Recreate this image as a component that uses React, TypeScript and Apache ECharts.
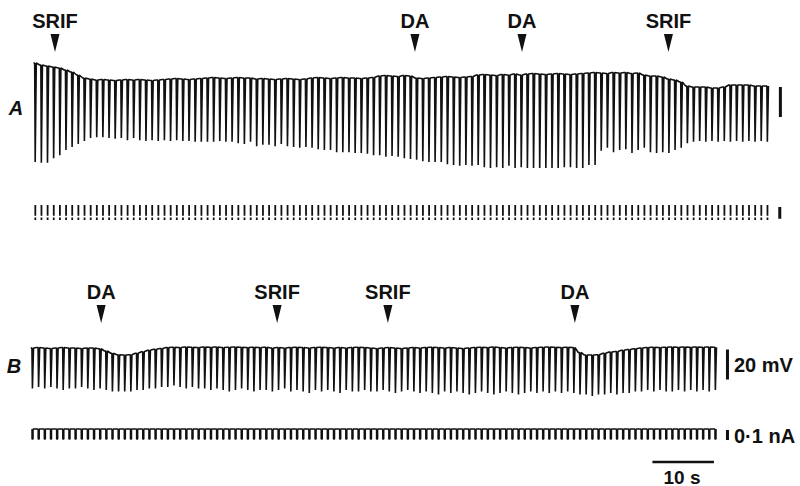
import React, { useEffect, useRef } from "react";
import * as echarts from "echarts";

// ---------- data (mV, nA, seconds) ----------
// Panel A: baseline (top) and peak of each electrotonic response (bottom), one value per 1-s current pulse
const A_TOPS = [
  0, -1.3, -2, -2.7, -3.3, -4.7, -6, -8, -10, -10.7,
  -11.3, -11, -11.3, -11.7, -11.3, -11, -11.3, -11, -11.3, -11.7, -11.3, -11,
  -10.7, -10.3, -10.7, -11, -10.7, -10.3,
  -10, -9.7, -10, -10.3, -10, -9.7, -10, -10,
  -10.7, -10.3, -10.7, -11,
  -10.7, -10.3, -10.7, -11, -10.7,
  -10, -9.7, -10, -10.3, -10, -9.7, -10, -10, -10.3, -10, -9.7,
  -8.7, -8.3, -8.7, -9, -8.3, -8.7,
  -10, -10.3, -10, -9.7,
  -9.3, -9, -9.3, -9.7, -9.3, -9,
  -8, -7.7, -8, -8.3, -7.7, -8, -7.3, -8,
  -7.3, -7, -7.3, -7.7, -7.3, -7, -7.3, -7.7, -7.3, -7,
  -6.7, -6.3, -6.7, -7, -6.3, -6.7, -6.3, -7, -6.7,
  -8, -8.7, -8.7, -9.3, -10.7, -11.3, -12.7, -15.3, -16, -16, -16,
  -16.7, -16.7, -16, -14.7, -14.7, -14.7, -14.7, -15.3, -15.3, -15.3,
];
const A_BOTTOMS = [
  -66, -66.5, -66.5, -63.5, -61.5, -58, -56, -54, -52, -50,
  -49.5, -49.5, -50, -50.5, -50, -51.5, -50, -51.5, -52, -51.5,
  -52, -51.5, -52, -51.5, -52, -52, -52.5, -52.5, -52.5, -52.5,
  -52, -52.5, -52.5, -53.5, -54, -52.5, -55.5, -54.5, -54.5, -55.5,
  -54, -55.5, -56, -56.5, -56, -56.5, -57.5, -58, -58, -59.5,
  -59.5, -59.5, -60, -60, -60.5, -61.5, -61.5, -62.5, -62, -62.5,
  -63.5, -64, -64.5, -65.5, -66, -66, -66, -67.5, -68, -68.5,
  -68, -68.5, -68, -69.5, -70, -69.5, -70, -68.5, -70, -69.5,
  -70, -70, -70, -70, -70, -70, -69.5, -69.5, -70, -70,
  -68, -68, -58.5, -56.5, -59.5, -58, -57.5, -60, -58, -56.5,
  -59.5, -60, -59.5, -60, -58, -56.5, -53.5, -52.5, -52, -52.5,
  -52, -52.5, -52, -52.5, -52, -52.5, -52, -52.5, -52, -52.5,
];
// Panel B
const B_TOPS = [
  0, 0.3, 0, -0.3, 0, 0.3, 0, 0, -0.3, 0, 0, -0.5,
  -2, -3.5, -4.5, -4.7, -4.5, -3.5, -2.5, -1.5, -0.8, -0.3,
  0.3, 0.5, 0.3, 0.7, 0.5, 0.3, 0.7, 0.5, 0.7, 0.3,
  0.5, 0.7, 0.5, 0.3, 0.5, 0.3, 0.5, 0, 0.3, 0,
  0.3, 0.5, 0.3, 0, 0.3, 0.5, 0.3, 0, 0.3, 0,
  0.3, 0.5, 0.3, 0, -0.3, 0, 0.3, 0, -0.3, 0,
  0.3, 0, 0.3, 0.5, 0.3, 0, 0.3, 0, -0.3, 0,
  0.3, 0.5, 0.3, 0.7, 0.3, 0, 0.3, 0.5, 0.3, 0,
  0.3, 0.5, 0.7, 0.5, 0.3, 0.5, 0.3,
  -3, -4.7, -4.7, -4.5, -3.5, -2.7, -2.3, -1.5, -1, -0.5,
  0, 0.3, 0.5, 0.3, 0.5, 0.7, 0.5, 0.7, 0.5, 0.7, 0.5, 0.7, 0.5,
];
const B_BOTTOMS = [
  -27, -26, -27, -26, -27, -28, -27, -27, -26, -27, -28, -27,
  -28, -29, -29, -29, -29, -28, -28, -27, -27, -26,
  -26, -25, -26, -27, -26, -27, -27, -28, -27, -28, -29, -28, -27, -28, -29, -28, -28,
  -29, -28, -27, -29, -28, -29, -30, -28, -29, -28, -29, -30, -28, -29, -29, -28, -29,
  -29, -28, -29, -30, -29, -28, -29, -30, -29, -30, -31, -29, -30, -29, -30, -31, -30,
  -29, -30, -31, -30, -29, -30, -31, -30, -29, -30, -29, -30, -29, -30, -29, -30,
  -31, -31, -32, -31, -31, -30, -31, -30, -30, -29,
  -29, -28, -29, -28, -29, -29, -28, -29, -28, -29, -28, -29, -28,
];
const PERIOD_S = 1; // current pulse every second
const A_START_S = 0.1;
const B_START_S = -0.35;
const A_PULSE_NA = 0.12;
const B_PULSE_NA = 0.1;
const PULSE_WIDTH_S = 0.2;

const A_EVENTS: [string, number][] = [["SRIF", 3.4], ["DA", 61.9], ["DA", 79.3], ["SRIF", 103.1]];
const B_EVENTS: [string, number][] = [["DA", 10.9], ["SRIF", 39.5], ["SRIF", 57.5], ["DA", 87.9]];

// scale bars
const A_MV_BAR = { t: 121.3, from: -16, to: -36 };
const A_NA_BAR = { t: 121.2, from: -0.015, to: -0.11 };
const B_MV_BAR = { t: 112.7, from: -1, to: -21 };
const B_NA_BAR = { t: 112.7, from: -0.01, to: -0.11 };
const TIME_BAR = { from: 100.5, to: 110.5 };

const INK = "#111111";
const FONT = "Liberation Sans";

function voltageTrace(t0: number, tops: number[], bots: number[]) {
  const pts: number[][] = [];
  tops.forEach((top, i) => {
    const t = t0 + i * PERIOD_S;
    pts.push([t - 0.2, top], [t, top], [t + 0.08, bots[i]], [t + 0.26, top]);
  });
  return pts;
}

// continuous baseline with square pulses
function currentTrace(t0: number, n: number, amp: number) {
  const pts: number[][] = [];
  for (let i = 0; i < n; i++) {
    const t = t0 + i * PERIOD_S;
    pts.push([t, 0], [t, -amp], [t + PULSE_WIDTH_S, -amp], [t + PULSE_WIDTH_S, 0]);
  }
  return pts;
}

// pulses only (faint baseline not printed), drawn as broken ticks
function currentTicks(t0: number, n: number, amp: number) {
  const pts: any[] = [];
  for (let i = 0; i < n; i++) {
    const t = t0 + i * PERIOD_S + 0.1;
    pts.push([t, 0], [t, -amp * 0.72], [t, "-"], [t, -amp * 0.84], [t, -amp], [t, "-"]);
  }
  return pts;
}

export default function App() {
  const ref = useRef<HTMLDivElement>(null);
  useEffect(() => {
    if (!ref.current) return;
    const chart = echarts.init(ref.current, null, { renderer: "svg" });
    const xAxisBase = { type: "value", min: -0.5, max: 124, show: false };
    const grids = [
      { left: 31, width: 766, top: 48, height: 150 },
      { left: 31, width: 766, top: 192.5, height: 37.5 },
      { left: 31, width: 766, top: 318, height: 90 },
      { left: 31, width: 766, top: 419, height: 30 },
      { left: 31, width: 766, top: 455, height: 14 },
    ];
    const yRanges = [
      [-90, 10],
      [-0.2, 0.1],
      [-40, 20],
      [-0.2, 0.1],
      [0, 1],
    ];
    const arrowMarks = (events: [string, number][], tip: number) => ({
      symbol: "path://M0,0L10,0L5,18Z",
      symbolSize: [9, 18],
      symbolOffset: [0, "-50%"],
      symbolKeepAspect: false,
      itemStyle: { color: INK },
      label: {
        show: true,
        position: "top",
        distance: 3,
        formatter: "{b}",
        color: INK,
        fontFamily: FONT,
        fontWeight: "bold",
        fontSize: 20,
      },
      data: events.map(([name, t]) => ({ name, coord: [t, tip] })),
    });
    const lineBase = {
      type: "line",
      symbol: "none",
      silent: true,
      connectNulls: false,
      lineStyle: { color: INK, width: 1.6 },
    };
    const bar = (idx: number, data: number[][], width: number) => ({
      ...lineBase,
      xAxisIndex: idx,
      yAxisIndex: idx,
      data,
      lineStyle: { color: INK, width },
    });
    const option = {
      animation: false,
      backgroundColor: "#ffffff",
      grid: grids,
      xAxis: grids.map((_, i) => ({ ...xAxisBase, gridIndex: i })),
      yAxis: yRanges.map((r, i) => ({ type: "value", gridIndex: i, min: r[0], max: r[1], show: false })),
      series: [
        {
          ...lineBase,
          xAxisIndex: 0,
          yAxisIndex: 0,
          data: voltageTrace(A_START_S, A_TOPS, A_BOTTOMS),
          markPoint: arrowMarks(A_EVENTS, 7.3),
        },
        {
          ...lineBase,
          xAxisIndex: 1,
          yAxisIndex: 1,
          lineStyle: { color: INK, width: 1.8 },
          data: currentTicks(A_START_S, A_TOPS.length, A_PULSE_NA),
        },
        {
          ...lineBase,
          xAxisIndex: 2,
          yAxisIndex: 2,
          data: voltageTrace(B_START_S, B_TOPS, B_BOTTOMS),
          markPoint: arrowMarks(B_EVENTS, 16.7),
        },
        {
          ...lineBase,
          xAxisIndex: 3,
          yAxisIndex: 3,
          lineStyle: { color: INK, width: 1.3 },
          data: currentTrace(B_START_S, B_TOPS.length, B_PULSE_NA),
        },
        bar(0, [[A_MV_BAR.t, A_MV_BAR.from], [A_MV_BAR.t, A_MV_BAR.to]], 3),
        bar(1, [[A_NA_BAR.t, A_NA_BAR.from], [A_NA_BAR.t, A_NA_BAR.to]], 3),
        bar(2, [[B_MV_BAR.t, B_MV_BAR.from], [B_MV_BAR.t, B_MV_BAR.to]], 3),
        bar(3, [[B_NA_BAR.t, B_NA_BAR.from], [B_NA_BAR.t, B_NA_BAR.to]], 3),
        bar(4, [[TIME_BAR.from, 0.5], [TIME_BAR.to, 0.5]], 2.5),
      ],
      graphic: [
        { type: "text", x: 16, y: 108, style: { text: "A", fill: INK, fontFamily: FONT, fontWeight: "bold", fontStyle: "italic", fontSize: 20, align: "center", verticalAlign: "middle" } },
        { type: "text", x: 14, y: 366, style: { text: "B", fill: INK, fontFamily: FONT, fontWeight: "bold", fontStyle: "italic", fontSize: 20, align: "center", verticalAlign: "middle" } },
        { type: "text", x: 734, y: 365, style: { text: "20 mV", fill: INK, fontFamily: FONT, fontWeight: "bold", fontSize: 20, align: "left", verticalAlign: "middle" } },
        { type: "text", x: 734, y: 436, style: { text: "0·1 nA", fill: INK, fontFamily: FONT, fontWeight: "bold", fontSize: 20, align: "left", verticalAlign: "middle" } },
        { type: "text", x: 682, y: 477, style: { text: "10 s", fill: INK, fontFamily: FONT, fontWeight: "bold", fontSize: 19, align: "center", verticalAlign: "middle" } },
      ],
    };
    chart.setOption(option as any);
    return () => chart.dispose();
  }, []);
  return (
    <div
      ref={ref}
      style={{ position: "fixed", left: 0, top: 0, width: 800, height: 486, background: "#fff" }}
    />
  );
}
